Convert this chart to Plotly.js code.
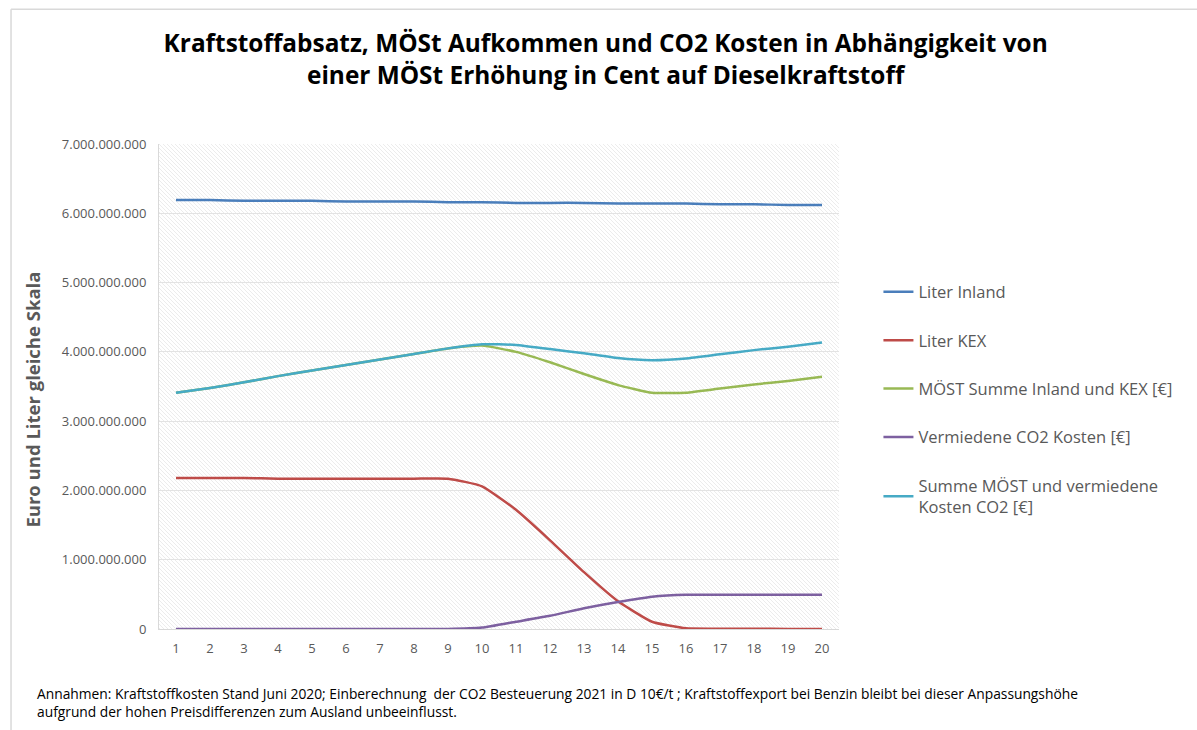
<!DOCTYPE html>
<html>
<head>
<meta charset="utf-8">
<script src="https://cdn.plot.ly/plotly-3.0.1.min.js"></script>
<style>html,body{margin:0;padding:0;background:#fff;}#chart{width:1197px;height:730px;}</style>
</head>
<body>
<div id="chart"></div>
<script>
const categories = ['1','2','3','4','5','6','7','8','9','10','11','12','13','14','15','16','17','18','19','20'];
const literInland = [6.19e9,6.19e9,6.18e9,6.18e9,6.18e9,6.17e9,6.17e9,6.17e9,6.16e9,6.16e9,6.15e9,6.15e9,6.15e9,6.14e9,6.14e9,6.14e9,6.13e9,6.13e9,6.12e9,6.12e9];
const literKEX = [2.18e9,2.18e9,2.18e9,2.17e9,2.17e9,2.17e9,2.17e9,2.17e9,2.17e9,2.06e9,1.72e9,1.28e9,0.82e9,0.40e9,0.105e9,0.01e9,0.005e9,0.003e9,0.001e9,0];
const moestSumme = [3.41e9,3.48e9,3.56e9,3.65e9,3.73e9,3.81e9,3.89e9,3.97e9,4.05e9,4.09e9,4.00e9,3.85e9,3.68e9,3.52e9,3.41e9,3.41e9,3.47e9,3.53e9,3.58e9,3.64e9];
const co2Kosten = [0,0,0,0,0,0,0,0,0,0.02e9,0.105e9,0.19e9,0.30e9,0.39e9,0.466e9,0.495e9,0.495e9,0.495e9,0.495e9,0.495e9];
const summeMoestCO2 = [3.41e9,3.48e9,3.56e9,3.65e9,3.73e9,3.81e9,3.89e9,3.97e9,4.05e9,4.11e9,4.10e9,4.04e9,3.98e9,3.91e9,3.88e9,3.905e9,3.965e9,4.025e9,4.075e9,4.135e9];
const seriesNames = ['Liter Inland','Liter KEX','MÖST Summe Inland und KEX [€]','Vermiedene CO2 Kosten [€]','Summe MÖST und vermiedene<br>Kosten CO2 [€]'];
const yTicks = [0,1e9,2e9,3e9,4e9,5e9,6e9,7e9];

const colors = ['#4a7ebb','#be4b48','#98b954','#7d60a0','#46aac5'];
const allSeries = [literInland, literKEX, moestSumme, co2Kosten, summeMoestCO2];

const traces = allSeries.map((vals, i) => ({
  type: 'scatter',
  mode: 'lines',
  x: categories,
  y: vals,
  name: seriesNames[i],
  legendgroup: 'g' + i,
  line: {color: colors[i], width: 2.5, shape: 'spline', smoothing: 0.45},
  hoverinfo: 'x+y+name'
}));

const hatchSvg = '<svg xmlns="http://www.w3.org/2000/svg" width="680" height="485">' +
  '<defs><pattern id="p" width="4" height="4" patternUnits="userSpaceOnUse">' +
  '<path d="M-1,-1 L5,5 M-1,3 L1,5 M3,-1 L5,1" stroke="#e4e4e4" stroke-width="0.7"/></pattern></defs>' +
  '<rect width="680" height="485" fill="#ffffff"/><rect width="680" height="485" fill="url(#p)"/></svg>';

const layout = {
  width: 1197,
  height: 730,
  margin: {l: 159, r: 358, t: 144, b: 101},
  paper_bgcolor: '#ffffff',
  plot_bgcolor: 'rgba(0,0,0,0)',
  separators: ',.',
  font: {family: 'Open Sans, Noto Sans, sans-serif', color: '#595959'},
  title: {
    text: '<b>Kraftstoffabsatz, MÖSt Aufkommen und CO2 Kosten in Abhängigkeit von<br>einer MÖSt Erhöhung in Cent auf Dieselkraftstoff</b>',
    font: {family: 'Open Sans, sans-serif', size: 24.4, color: '#000000'},
    x: 0.506, xanchor: 'center', xref: 'container',
    y: 0.929, yanchor: 'top', yref: 'container'
  },
  showlegend: true,
  legend: {
    x: 1.058, xanchor: 'left', y: 0.731, yanchor: 'top',
    font: {family: 'Open Sans, sans-serif', size: 16.5, color: '#595959'},
    traceorder: 'grouped',
    tracegroupgap: 24,
    bgcolor: 'rgba(0,0,0,0)'
  },
  images: [{
    source: 'data:image/svg+xml;charset=utf-8,' + encodeURIComponent(hatchSvg),
    xref: 'paper', yref: 'paper', x: 0, y: 1, sizex: 1, sizey: 1,
    xanchor: 'left', yanchor: 'top', sizing: 'stretch', layer: 'below'
  }],
  xaxis: {
    type: 'category',
    range: [-0.5, 19.5],
    showgrid: false,
    showline: true,
    linecolor: '#d9d9d9',
    linewidth: 1,
    ticks: '',
    ticklabelstandoff: 7,
    tickfont: {size: 13, color: '#595959'},
    fixedrange: true,
    zeroline: false
  },
  yaxis: {
    range: [0, 7e9],
    tickvals: yTicks,
    tickformat: ',d',
    showgrid: true,
    gridcolor: '#e3e3e3',
    gridwidth: 1,
    showline: true,
    linecolor: '#d9d9d9',
    ticks: '',
    ticklabelstandoff: 9,
    tickfont: {size: 13, color: '#595959'},
    zeroline: false
  },
  shapes: [
    {type: 'line', xref: 'paper', yref: 'paper', x0: -0.2176, x1: -0.2176, y0: 1.278, y1: -0.3, line: {color: '#d9d9d9', width: 1.5}},
    {type: 'line', xref: 'paper', yref: 'paper', x0: -0.2176, x1: 1.6, y0: 1.278, y1: 1.278, line: {color: '#d9d9d9', width: 1.5}}
  ],
  annotations: [
    {
      xref: 'paper', yref: 'paper', x: -0.1853, y: 0.473, xanchor: 'center', yanchor: 'middle',
      textangle: -90, showarrow: false,
      text: '<b>Euro und Liter gleiche Skala</b>',
      font: {family: 'Open Sans, sans-serif', size: 18.5, color: '#595959'}
    },
    {
      xref: 'paper', yref: 'paper', x: -0.182, y: -0.11, xanchor: 'left', yanchor: 'top', align: 'left',
      showarrow: false,
      text: 'Annahmen: Kraftstoffkosten Stand Juni 2020; Einberechnung  der CO2 Besteuerung 2021 in D 10€/t ; Kraftstoffexport bei Benzin bleibt bei dieser Anpassungshöhe<br>aufgrund der hohen Preisdifferenzen zum Ausland unbeeinflusst.',
      font: {family: 'Open Sans, sans-serif', size: 13.8, color: '#000000'}
    }
  ]
};

Plotly.newPlot('chart', traces, layout, {displayModeBar: false, staticPlot: true});
</script>
</body>
</html>
